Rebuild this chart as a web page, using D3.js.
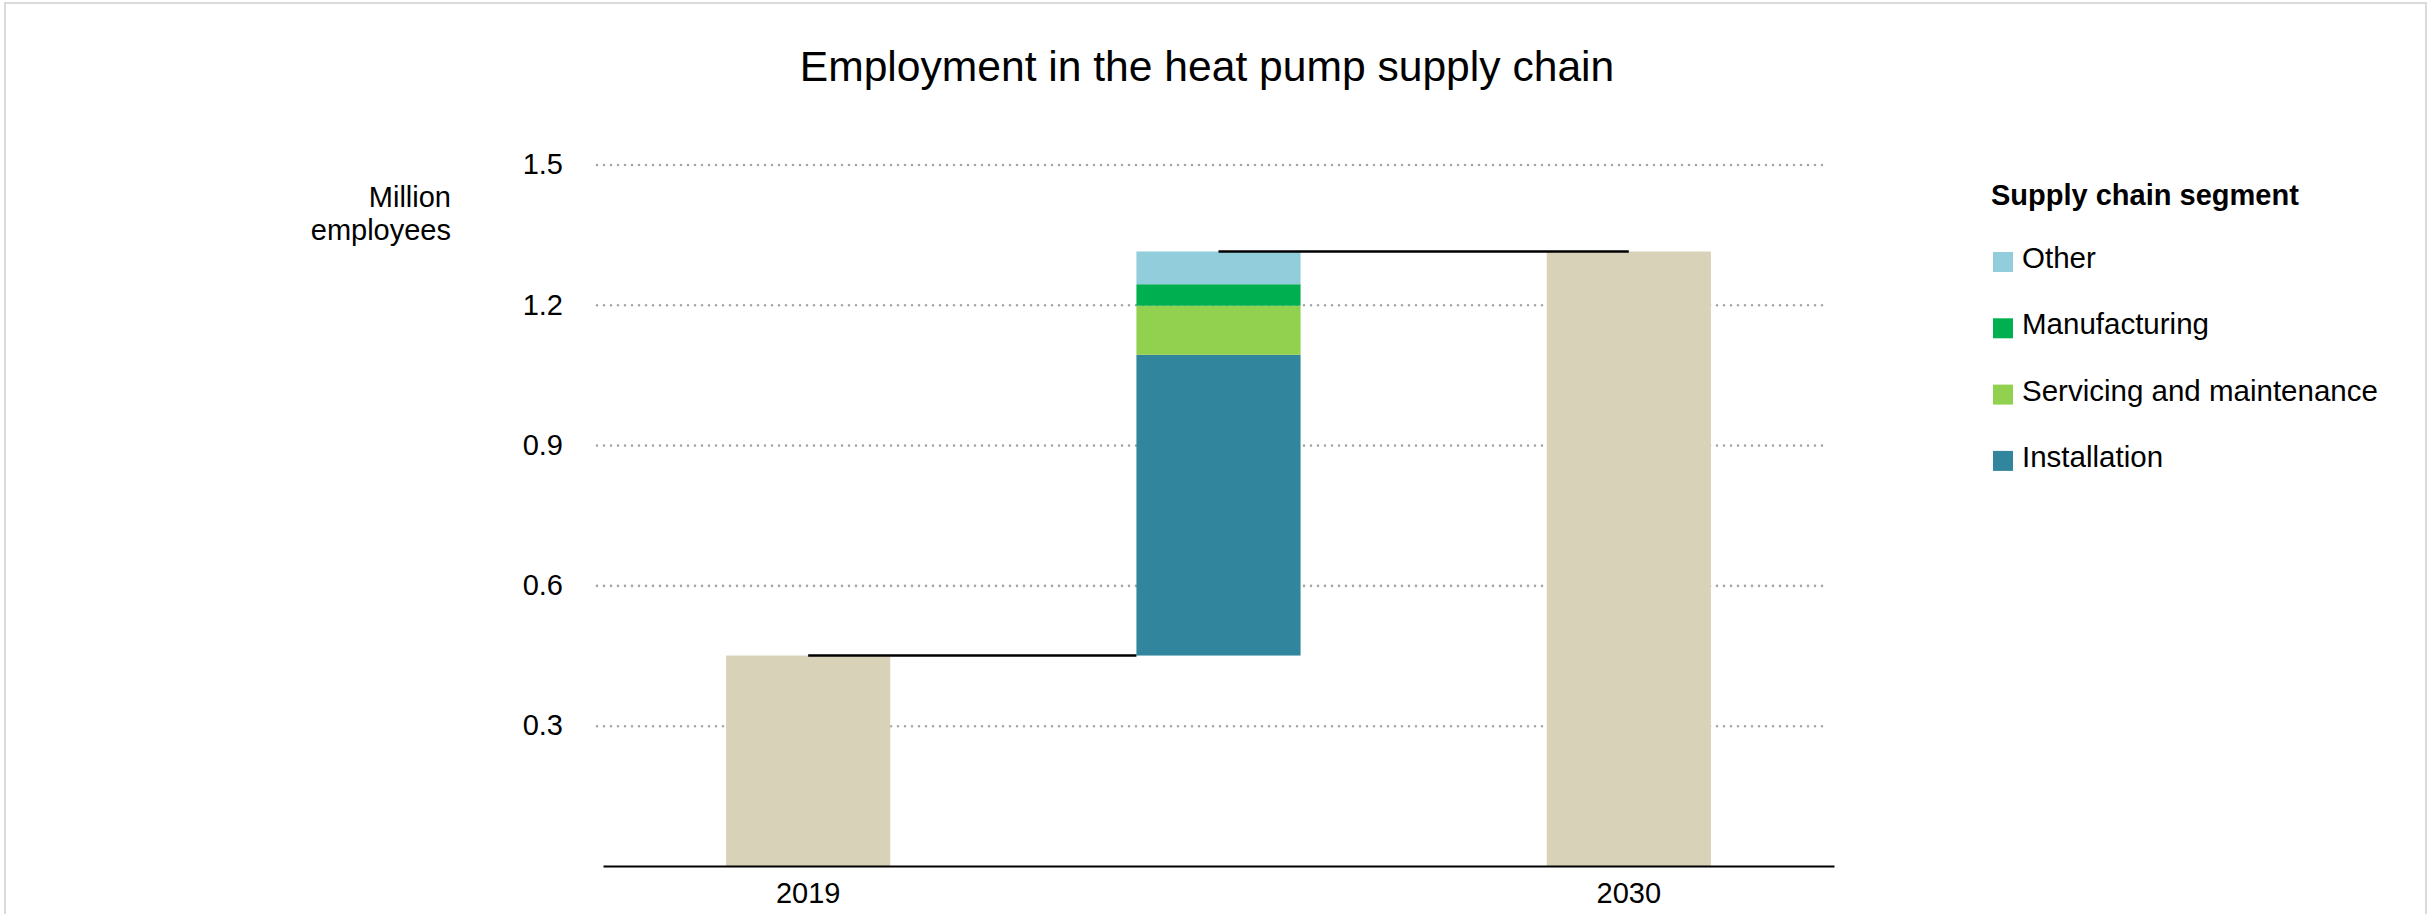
<!DOCTYPE html>
<html>
<head>
<meta charset="utf-8">
<script src="https://cdn.jsdelivr.net/npm/d3@7"></script>
<style>
  html, body { margin: 0; padding: 0; background: #fff; }
  svg { display: block; font-family: "Liberation Sans", Arial, sans-serif; }
</style>
</head>
<body>
<svg id="chart" width="2433" height="914"></svg>
<script>
// ---- data ----
const categories = ["2019", "Change", "2030"];
const categoryLabels = ["2019", "", "2030"];
const baseValue2019 = 0.45;
const segments = ["Installation", "Servicing and maintenance", "Manufacturing", "Other"];
const segmentValues = [0.643, 0.105, 0.046, 0.07];
const total2030 = 1.314;
const yTicks = [0.3, 0.6, 0.9, 1.2, 1.5];
const legendOrder = ["Other", "Manufacturing", "Servicing and maintenance", "Installation"];

const segmentColors = {
  "Installation": "#31859c",
  "Servicing and maintenance": "#92d050",
  "Manufacturing": "#00b050",
  "Other": "#92cddc"
};
const totalColor = "#d7d2b8";

const svg = d3.select("#chart");

// frame
svg.append("rect").attr("x", 5).attr("y", 3).attr("width", 2421).attr("height", 960)
  .attr("fill", "none").attr("stroke", "#dadada").attr("stroke-width", 2);

// title
svg.append("text").attr("x", 1207).attr("y", 81).attr("text-anchor", "middle")
  .attr("font-size", 42.6).attr("fill", "#000").text("Employment in the heat pump supply chain");

// scales
const x = d3.scaleBand().domain(categories).range([603, 1834]).paddingInner(0.6).paddingOuter(0.3);
const y = d3.scaleLinear().domain([0, 1.5]).range([866, 164.5]);

// gridlines + y tick labels via axis
const gridLeft = 597, gridRight = 1828;
const yAxis = svg.append("g").attr("transform", `translate(${gridLeft},0)`)
  .call(d3.axisLeft(y).tickValues(yTicks).tickFormat(d3.format(".1f"))
    .tickSize(-(gridRight - gridLeft)).tickPadding(34));
yAxis.select(".domain").remove();
yAxis.selectAll(".tick line").attr("stroke", "#a6a6a6").attr("stroke-width", 2.6)
  .attr("stroke-linecap", "round").attr("stroke-dasharray", "0,7");
yAxis.selectAll(".tick text").attr("font-size", 29).attr("fill", "#000")
  .attr("font-family", "\"Liberation Sans\", Arial, sans-serif");

// y axis title
const yt = svg.append("text").attr("text-anchor", "end").attr("font-size", 29).attr("fill", "#000");
yt.append("tspan").attr("x", 451).attr("y", 207).text("Million");
yt.append("tspan").attr("x", 451).attr("y", 240).text("employees");

// total bars
const totalsData = [
  { cat: "2019", value: baseValue2019 },
  { cat: "2030", value: total2030 }
];
svg.append("g").selectAll("rect").data(totalsData).join("rect")
  .attr("x", d => x(d.cat)).attr("width", x.bandwidth())
  .attr("y", d => y(d.value)).attr("height", d => y(0) - y(d.value))
  .attr("fill", totalColor);

// stacked change bar
let cum = baseValue2019;
const stackData = segments.map((s, i) => {
  const d = { name: s, y0: cum, y1: cum + segmentValues[i] };
  cum += segmentValues[i];
  return d;
});
svg.append("g").selectAll("rect").data(stackData).join("rect")
  .attr("x", x("Change")).attr("width", x.bandwidth())
  .attr("y", d => y(d.y1)).attr("height", d => y(d.y0) - y(d.y1))
  .attr("fill", d => segmentColors[d.name]);

// connector lines
const cx = c => x(c) + x.bandwidth() / 2;
svg.append("line").attr("x1", cx("2019")).attr("x2", x("Change"))
  .attr("y1", y(baseValue2019)).attr("y2", y(baseValue2019))
  .attr("stroke", "#000").attr("stroke-width", 2.5);
svg.append("line").attr("x1", cx("Change")).attr("x2", cx("2030"))
  .attr("y1", y(cum)).attr("y2", y(cum))
  .attr("stroke", "#000").attr("stroke-width", 2.5);

// x axis
const xAxis = svg.append("g").attr("transform", `translate(0,${y(0)})`)
  .call(d3.axisBottom(x).tickSize(0).tickPadding(16)
    .tickFormat((d, i) => categoryLabels[i]));
xAxis.select(".domain").attr("stroke", "#000").attr("stroke-width", 2);
xAxis.selectAll(".tick text").attr("font-size", 29).attr("fill", "#000")
  .attr("font-family", "\"Liberation Sans\", Arial, sans-serif");

// legend
const legend = svg.append("g");
legend.append("text").attr("x", 1991).attr("y", 205).attr("font-size", 29)
  .attr("font-weight", "bold").attr("fill", "#000").text("Supply chain segment");
const items = legend.selectAll("g.item").data(legendOrder).join("g").attr("class", "item")
  .attr("transform", (d, i) => `translate(1993,${252 + i * 66.3})`);
items.append("rect").attr("width", 20).attr("height", 20).attr("fill", d => segmentColors[d]);
items.append("text").attr("x", 29).attr("y", 16).attr("font-size", 29.5).attr("fill", "#000").text(d => d);
</script>
</body>
</html>
